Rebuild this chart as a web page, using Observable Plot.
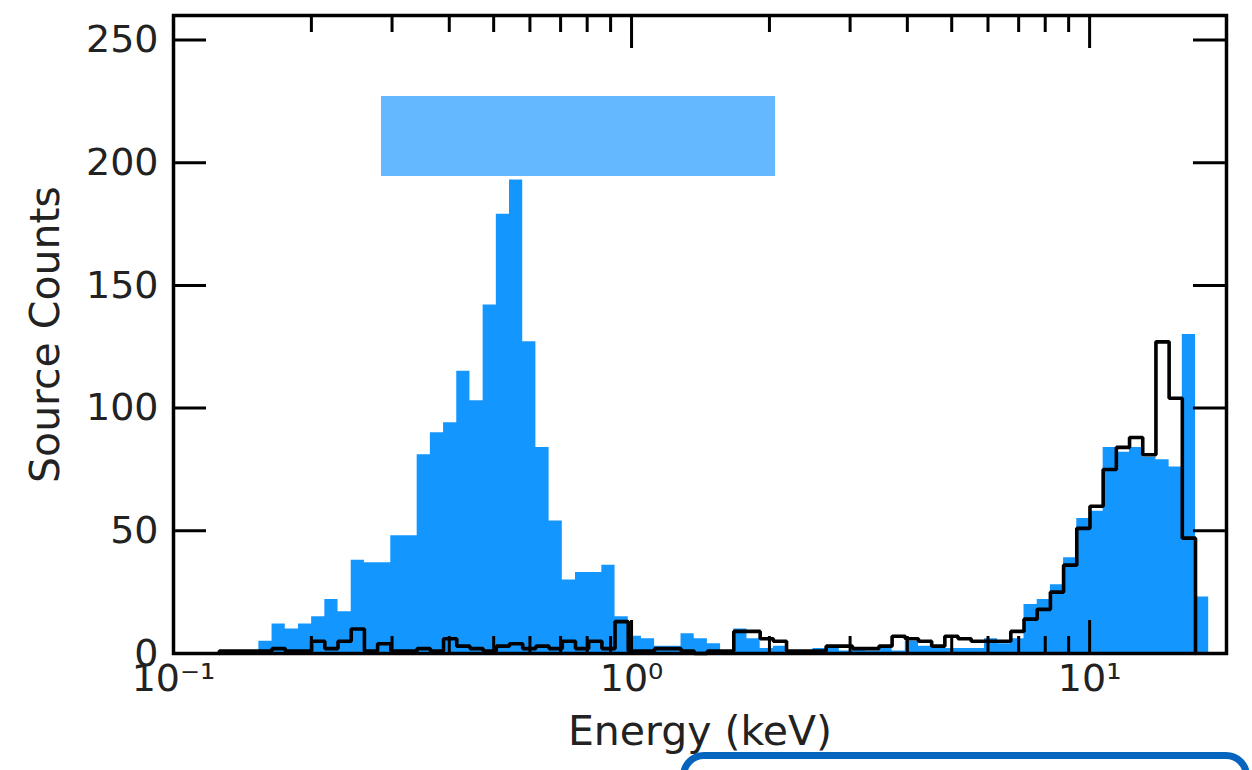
<!DOCTYPE html>
<html>
<head>
<meta charset="utf-8">
<script src="https://cdn.jsdelivr.net/npm/d3@7"></script>
<script src="https://cdn.jsdelivr.net/npm/@observablehq/plot@0.6"></script>
<style>
  html, body { margin: 0; padding: 0; background: #fff; overflow: hidden; }
  #wrap { position: relative; width: 1252px; height: 770px; }
  #legendBox { position: absolute; left: 381px; top: 96px; width: 394px; height: 80px; background: #64b8ff; }
  #captionBox { position: absolute; left: 680px; top: 752px; width: 556px; height: 60px; background: #fff;
    border: 7px solid #0564be; border-radius: 24px; }
</style>
</head>
<body>
<div id="wrap"><div id="legendBox"></div><div id="captionBox"></div></div>
<script>
// Log-spaced energy bins (keV): first edge and bin width in dex
const edgeStart = 0.1536;
const edgeStepDex = 0.0288;

// Source counts per bin, blue filled histogram (bins 0..71)
const blueCounts = [
  5, 12, 10, 12, 15, 22, 17, 38, 37, 37,
  48, 48, 81, 90, 94, 115, 103, 142, 179, 193,
  127, 84, 54, 30, 33, 33, 36, 15, 7, 6,
  3, 3, 8, 6, 4, 1, 10, 6, 2, 3,
  1, 1, 2, 2, 1, 2, 1, 3, 1, 5,
  3, 2, 2, 2, 2, 6, 4, 6, 20, 22,
  28, 39, 55, 58, 84, 82, 84, 80, 79, 76,
  130, 23
];
const blueFirstBin = 0;

// Source counts per bin, black step histogram (bins -3..70)
const blackCounts = [
  1, 1, 1,
  1, 2, 1, 1, 5, 2, 5, 10, 1, 4,
  1, 1, 2, 1, 6, 3, 2, 1, 3, 4,
  2, 3, 2, 5, 2, 5, 2, 13, 1, 1,
  2, 2, 1, 0, 1, 1, 9, 9, 6, 5,
  1, 1, 1, 3, 3, 2, 2, 3, 7, 6,
  5, 3, 7, 6, 5, 5, 5, 9, 14, 18,
  25, 36, 51, 60, 75, 84, 88, 81, 127, 104,
  47
];
const blackFirstBin = -3;

// Axis ticks
const xMajorTicks = [0.1, 1, 10];
const xMajorLabels = ["10\u207B\u00B9", "10\u2070", "10\u00B9"];
const xMinorTicks = [0.2, 0.3, 0.4, 0.5, 0.6, 0.7, 0.8, 0.9, 2, 3, 4, 5, 6, 7, 8, 9];
const yTicks = [0, 50, 100, 150, 200, 250];

const edge = k => edgeStart * Math.pow(10, k * edgeStepDex);

const blueData = blueCounts.map((c, i) => ({x: edge(blueFirstBin + i), y: c}));
blueData.push({x: edge(blueFirstBin + blueCounts.length), y: 0});

const blackData = [{x: edge(blackFirstBin), y: 0}]
  .concat(blackCounts.map((c, i) => ({x: edge(blackFirstBin + i), y: c})));
blackData.push({x: edge(blackFirstBin + blackCounts.length), y: 0});

const W = 1252, H = 770;
const mL = 173, mR = 26, mT = 15, mB = 117;
const innerW = W - mL - mR, innerH = H - mT - mB;
const majorLen = 33, minorLen = 17;
const tickColor = "black";

const chart = Plot.plot({
  width: W,
  height: H,
  marginLeft: mL,
  marginRight: mR,
  marginTop: mT,
  marginBottom: mB,
  style: {fontFamily: "DejaVu Sans, sans-serif", background: "white"},
  x: {type: "log", domain: [0.1, 19.9]},
  y: {domain: [0, 260]},
  marks: [
    Plot.areaY(blueData, {x: "x", y: "y", curve: "step-after", fill: "#1496ff"}),
    Plot.lineY(blackData, {x: "x", y: "y", curve: "step-after", stroke: "black", strokeWidth: 3.6, strokeLinejoin: "miter"}),
    // inward ticks, bottom and top
    Plot.tickX(xMajorTicks, {x: d => d, insetTop: innerH - majorLen, stroke: tickColor, strokeWidth: 3}),
    Plot.tickX(xMajorTicks, {x: d => d, insetBottom: innerH - majorLen, stroke: tickColor, strokeWidth: 3}),
    Plot.tickX(xMinorTicks, {x: d => d, insetTop: innerH - minorLen, stroke: tickColor, strokeWidth: 3}),
    Plot.tickX(xMinorTicks, {x: d => d, insetBottom: innerH - minorLen, stroke: tickColor, strokeWidth: 3}),
    // inward ticks, left and right
    Plot.tickY(yTicks, {y: d => d, insetRight: innerW - majorLen, stroke: tickColor, strokeWidth: 3}),
    Plot.tickY(yTicks, {y: d => d, insetLeft: innerW - majorLen, stroke: tickColor, strokeWidth: 3}),
    Plot.frame({stroke: "black", strokeWidth: 3.5}),
    Plot.axisX({ticks: xMajorTicks, tickFormat: d => xMajorLabels[xMajorTicks.indexOf(d)],
      tickSize: 0, tickPadding: 11, fontSize: 38, color: "#222", label: null}),
    Plot.axisY({ticks: yTicks, tickSize: 0, tickPadding: 15, fontSize: 38, color: "#222", label: null}),
    Plot.text(["Energy (keV)"], {frameAnchor: "bottom", dy: 91, fontSize: 41, fill: "#222"}),
    Plot.text(["Source Counts"], {frameAnchor: "left", textAnchor: "middle", dx: -128, rotate: -90, fontSize: 41, fill: "#222"})
  ]
});

document.getElementById("wrap").insertBefore(chart, document.getElementById("legendBox"));
</script>
</body>
</html>
